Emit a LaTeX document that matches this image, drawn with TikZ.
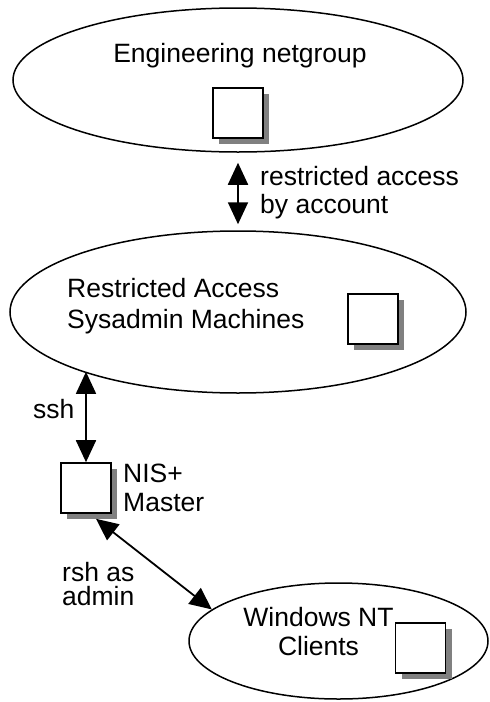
\documentclass[tikz,border=0pt]{standalone}
\usepackage{fontspec}
\setmainfont{Liberation Sans}
\usetikzlibrary{arrows.meta,shadows,shapes.geometric}
\begin{document}
\begin{tikzpicture}[x=1pt,y=-1pt,
  group/.style={draw,ellipse,line width=1.5pt,inner sep=0pt},
  host/.style={draw,fill=white,minimum size=50pt,inner sep=0pt,line width=#1,
    drop shadow={shadow xshift=6pt,shadow yshift=-6pt,fill=black!50,opacity=1,draw=none}},
  host/.default=1.6pt,
  txt/.style={inner sep=0pt,font=\fontsize{26.5}{30}\selectfont},
  link/.style={line width=1.8pt,{Triangle[length=22pt,width=20pt]}-{Triangle[length=22pt,width=20pt]}}]
\useasboundingbox (0,0) rectangle (490,702);
% groups
\node[group,minimum width=450pt,minimum height=144pt] (eng) at (238,80) {};
\node[group,minimum width=456pt,minimum height=162pt] (sys) at (238,312) {};
\node[group,minimum width=299pt,minimum height=116pt] (win) at (338.5,641) {};
% hosts
\node[host=2.2pt] (engbox) at (238,113) {};
\node[host=2.2pt] (sysbox) at (373,319) {};
\node[host] (nis) at (86,488) {};
\node[host] (winbox) at (420.5,648) {};
% texts
\node[txt,anchor=base] (engl) at (240,62) {Engineering netgroup};
\node[txt,anchor=base west] (acc1) at (260,185) {restricted access};
\node[txt,anchor=base west] (acc2) at (260,213) {by account};
\node[txt,anchor=base west] (sys1) at (67,297) {Restricted Access};
\node[txt,anchor=base west] (sys2) at (67,328) {Sysadmin Machines};
\node[txt,anchor=base west] (sshl) at (33,418) {ssh};
\node[txt,anchor=base west] (nis1) at (123,482) {NIS+};
\node[txt,anchor=base west] (nis2) at (123,511) {Master};
\node[txt,anchor=base west] (rsh1) at (62,581) {rsh as};
\node[txt,anchor=base west] (rsh2) at (62,605) {admin};
\node[txt,anchor=base] (win1) at (318.5,626) {Windows NT};
\node[txt,anchor=base] (win2) at (318.5,655) {Clients};
% links
\draw[link,shorten <=10pt,shorten >=6pt] (eng.south) -- (sys.north);
\draw[link] (nis.north |- sys.201.5) -- (nis.north);
\draw[link] ([shift={(10,5)}]nis.south) -- (win.166.9);
\end{tikzpicture}
\end{document}
